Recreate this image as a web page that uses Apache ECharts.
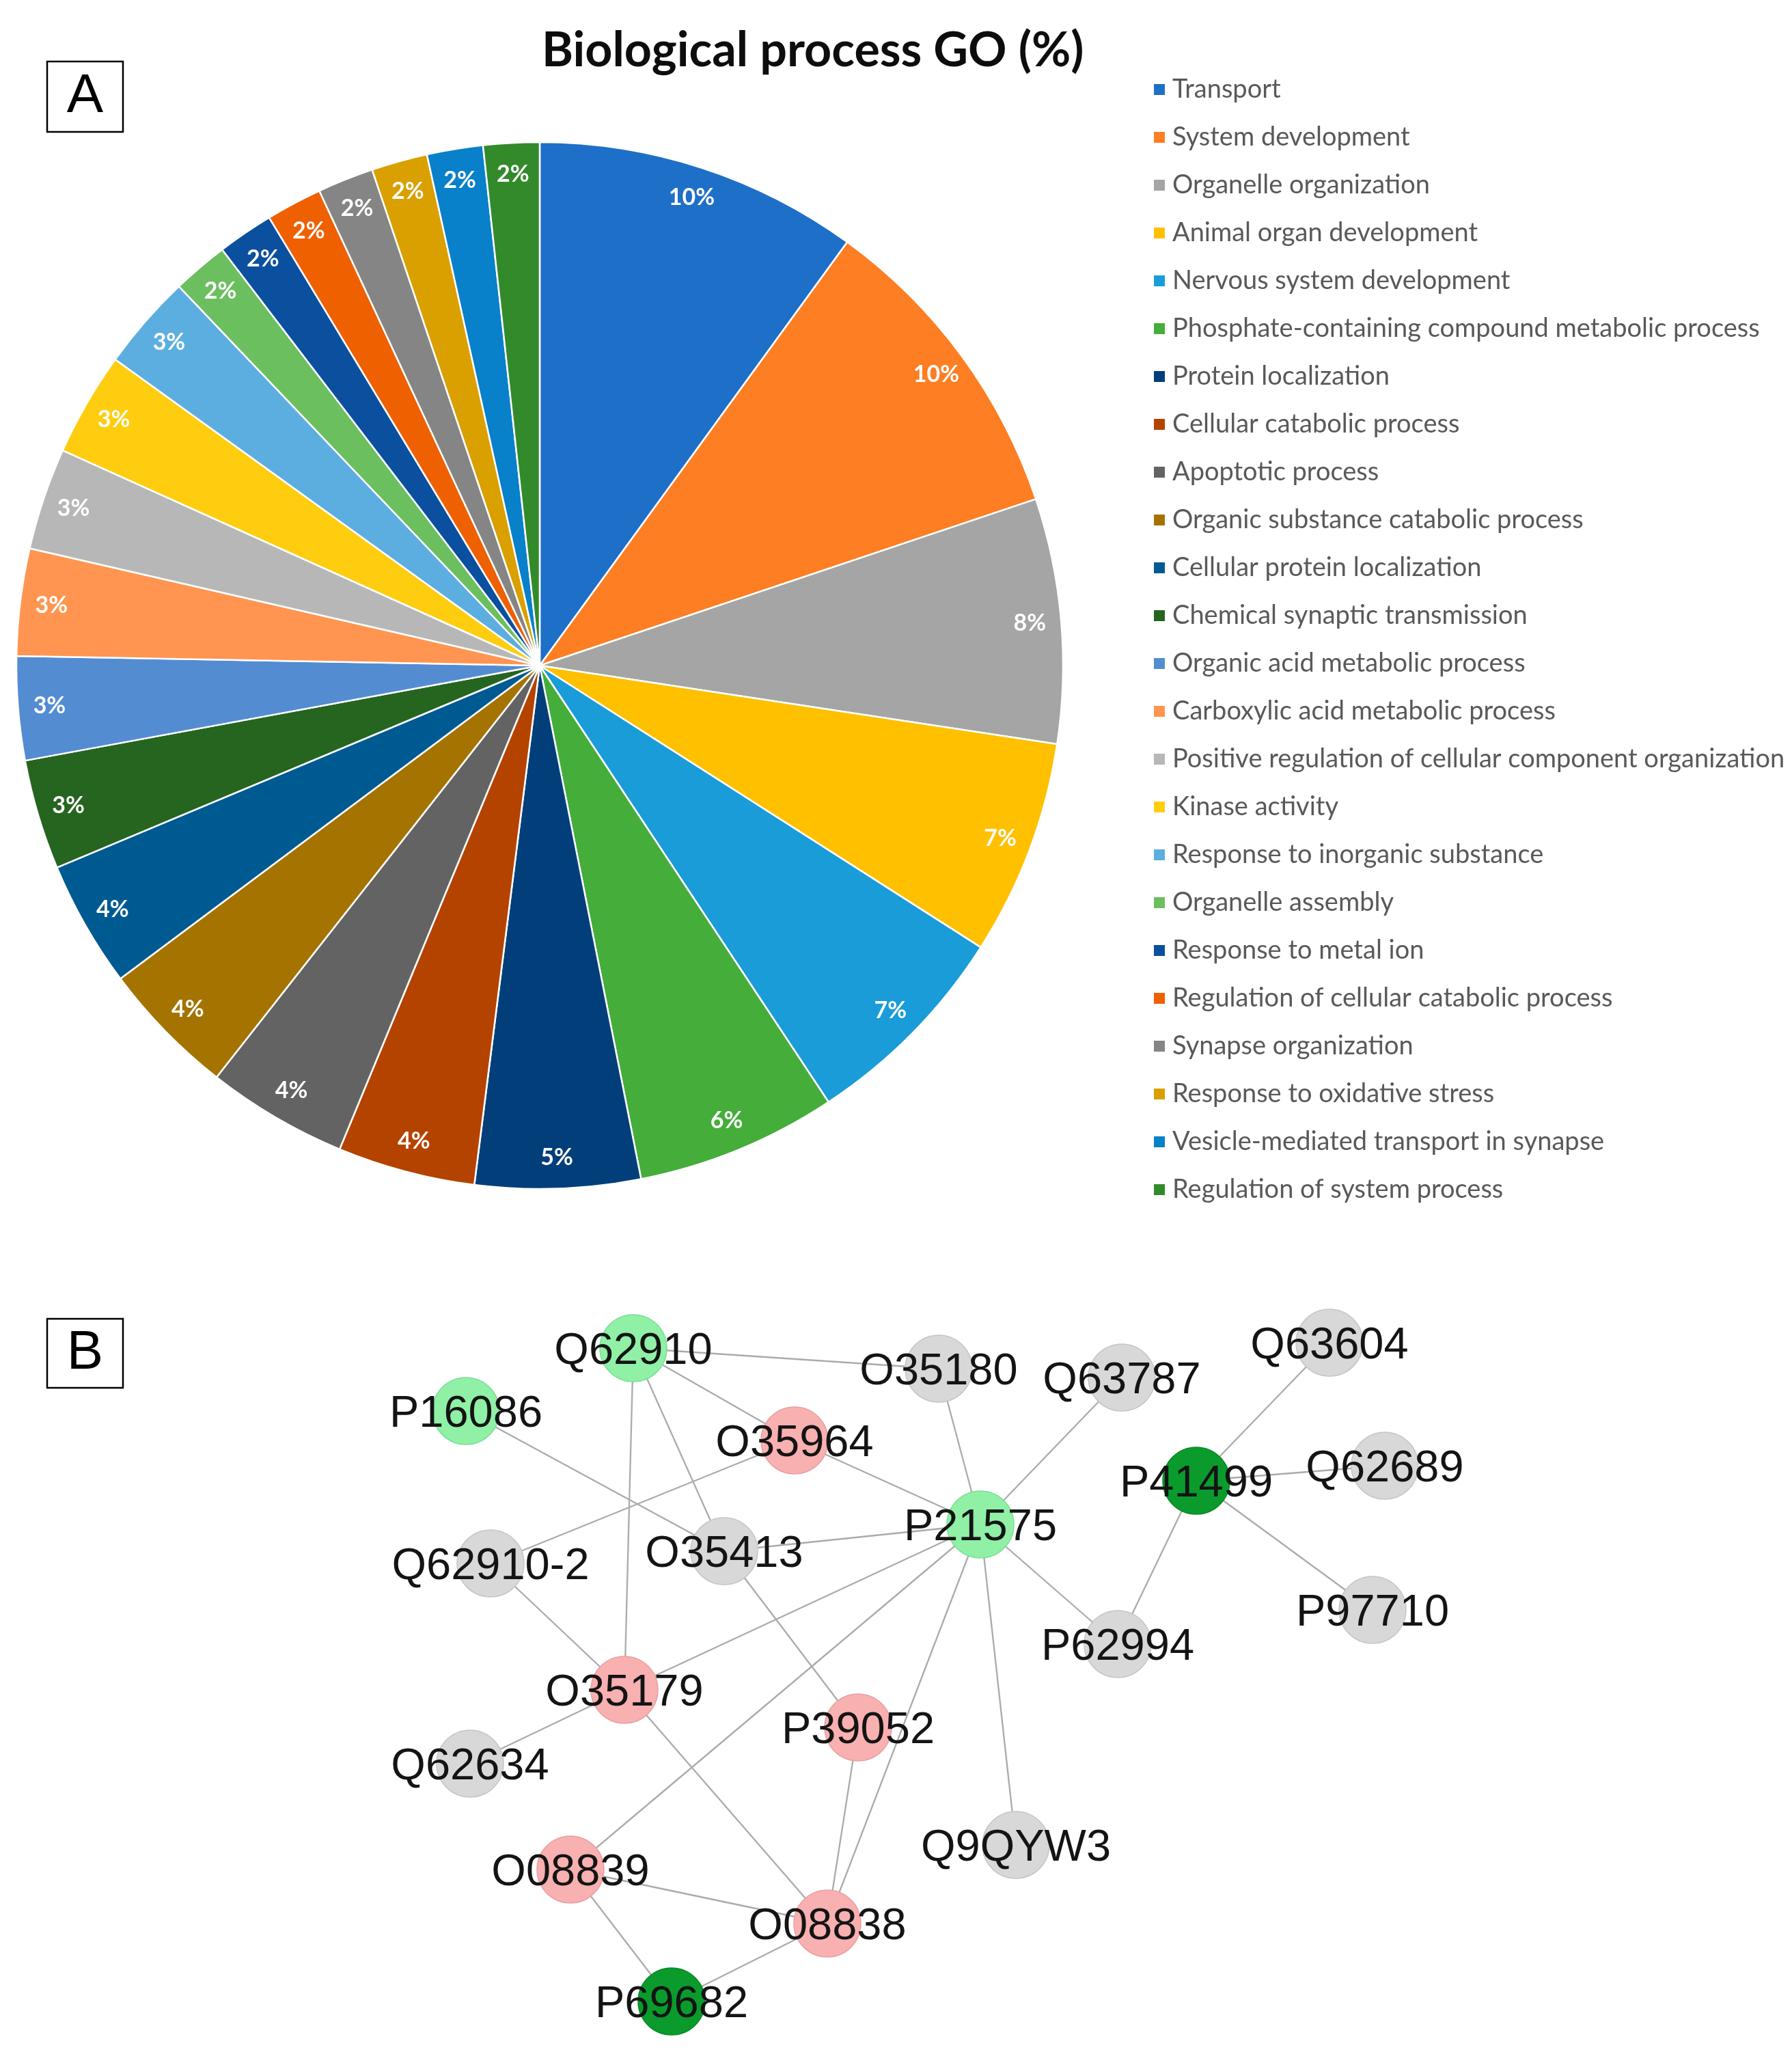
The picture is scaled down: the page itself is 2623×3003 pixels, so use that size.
<!DOCTYPE html>
<html><head><meta charset="utf-8">
<script src="https://cdn.jsdelivr.net/npm/echarts@6/dist/echarts.min.js"></script>
<style>html,body{margin:0;padding:0;background:#fff}#c{width:2623px;height:3003px}</style>
</head><body><div id="c"></div>
<script>
// ---------- Panel A: GO biological process pie ----------
const goTerms = [
  'Transport','System development','Organelle organization','Animal organ development',
  'Nervous system development','Phosphate-containing compound metabolic process',
  'Protein localization','Cellular catabolic process','Apoptotic process',
  'Organic substance catabolic process','Cellular protein localization',
  'Chemical synaptic transmission','Organic acid metabolic process',
  'Carboxylic acid metabolic process','Positive regulation of cellular component organization',
  'Kinase activity','Response to inorganic substance','Organelle assembly',
  'Response to metal ion','Regulation of cellular catabolic process','Synapse organization',
  'Response to oxidative stress','Vesicle-mediated transport in synapse','Regulation of system process'
];
const goPercent = [10.0, 9.85, 7.55, 6.65, 6.65, 6.2, 5.1, 4.25, 4.35, 4.2, 3.9, 3.4, 3.2, 3.3, 3.15, 3.2, 2.95,
                   1.73, 1.73, 1.73, 1.73, 1.73, 1.73, 1.73];
const goColors = ['#1E6FC8','#FD7E23','#A5A5A5','#FFC000','#199CD8','#45AD3A','#023F7A','#B54300',
                  '#636363','#A57300','#005A92','#25651F','#548CD2','#FF9550','#B7B7B7','#FFCD10',
                  '#5DAEE0','#6CBF5F','#0B4F9F','#EF6000','#858585','#D9A000','#0880CA','#338A2B'];

// ---------- Panel B: interaction network ----------
const nodeNames = ['Q62910','P16086','O35180','Q63787','Q63604','O35964','P41499','Q62689','P21575',
                   'O35413','Q62910-2','P62994','P97710','O35179','P39052','Q62634','Q9QYW3',
                   'O08839','O08838','P69682'];
const nodeX = [327, 82, 774, 1042, 1346, 563, 1151, 1427, 835, 460, 118, 1036, 1409, 314, 656, 88, 887, 235, 611, 383];
const nodeY = [73, 165, 103, 116, 65, 208, 267, 245, 331, 370, 388, 506, 456, 573, 628, 681, 800, 836, 915, 1029];
const nodeGroup = ['light','light','gray','gray','gray','pink','dark','gray','light',
                   'gray','gray','gray','gray','pink','pink','gray','gray','pink','pink','dark'];
const edgeSource = ['Q62910','Q62910','Q62910','Q62910','P16086','O35964','O35964','O35180','Q63787',
                    'O35413','O35413','Q62910-2','O35179','O35179','O35179','P21575','P21575','P21575',
                    'P21575','P39052','O08839','O08839','P69682','P41499','P41499','P41499','P41499'];
const edgeTarget = ['O35180','O35964','O35413','O35179','O35413','Q62910-2','P21575','P21575','P21575',
                    'P21575','P39052','O35179','P21575','Q62634','O08838','O08839','O08838','P62994',
                    'Q9QYW3','O08838','O08838','P69682','O08838','Q63604','Q62689','P97710','P62994'];

const groupStyle = {
  gray:  {color:'#D8D8D8', borderColor:'#C6C6C6'},
  pink:  {color:'#F8B0B0', borderColor:'#E9A0A0'},
  light: {color:'#8FF0A6', borderColor:'#7CDF95'},
  dark:  {color:'#0A9B2C', borderColor:'#088A25'}
};

const pieData = goTerms.map((n, i) => ({name: n, value: goPercent[i], itemStyle: {color: goColors[i]}}));
const pieLabelData = goTerms.map((n, i) => ({name: n, value: goPercent[i]}));

const chart = echarts.init(document.getElementById('c'), null, {renderer: 'canvas'});
chart.setOption({
  backgroundColor: '#fff',
  animation: false,
  title: {
    text: 'Biological process GO (%)',
    left: 793, top: 38, padding: 0,
    textStyle: {fontFamily: 'Lato', fontWeight: 'bold', fontSize: 70, color: '#0d0d0d', lineHeight: 72}
  },
  legend: {
    orient: 'vertical', left: 1682, top: 106, itemGap: 30,
    itemWidth: 18, itemHeight: 18, icon: 'rect',
    data: goTerms.map((n, i) => ({name: n, itemStyle: {color: goColors[i]}})),
    textStyle: {fontFamily: 'Lato', fontSize: 38, color: '#595959', lineHeight: 40, padding: [0, 0, 0, 5]},
    selectedMode: false
  },
  grid: {left: 600, top: 1900, width: 1600, height: 1100, show: false},
  xAxis: {type: 'value', min: 0, max: 1600, show: false},
  yAxis: {type: 'value', min: 0, max: 1100, inverse: true, show: false},
  graphic: [
    {type: 'rect', shape: {x: 69, y: 90, width: 111, height: 103}, style: {fill: 'none', stroke: '#000', lineWidth: 2.5}},
    {type: 'text', x: 124.5, y: 142, style: {text: 'A', font: '80px "Liberation Sans", Arial', fill: '#000', align: 'center', verticalAlign: 'middle'}},
    {type: 'rect', shape: {x: 69, y: 1930, width: 111, height: 101}, style: {fill: 'none', stroke: '#000', lineWidth: 2.5}},
    {type: 'text', x: 124.5, y: 1981, style: {text: 'B', font: '80px "Liberation Sans", Arial', fill: '#000', align: 'center', verticalAlign: 'middle'}}
  ],
  series: [
    {
      type: 'pie', name: 'GO', center: [790, 974], radius: [0, 766], startAngle: 90, clockwise: true,
      data: pieData, label: {show: false}, labelLine: {show: false},
      itemStyle: {borderColor: '#fff', borderWidth: 2.5}, emphasis: {disabled: true}, silent: true
    },
    {
      type: 'pie', name: 'GO labels', center: [790, 974], radius: [668, 766], startAngle: 90, clockwise: true,
      data: pieLabelData, legendHoverLink: false, silent: true, emphasis: {disabled: true},
      itemStyle: {color: 'rgba(0,0,0,0)', borderWidth: 0},
      label: {show: true, position: 'inside', formatter: p => Math.round(p.percent) + '%',
              fontFamily: 'Lato', fontWeight: 'bold', fontSize: 34, color: '#fff'},
      labelLine: {show: false}
    },
    {
      type: 'graph', coordinateSystem: 'cartesian2d', xAxisIndex: 0, yAxisIndex: 0,
      symbol: 'circle', symbolSize: 98, roam: false, silent: true,
      data: nodeNames.map((n, i) => ({
        name: n, value: [nodeX[i], nodeY[i]],
        itemStyle: Object.assign({borderWidth: 1.5}, groupStyle[nodeGroup[i]])
      })),
      links: edgeSource.map((s, i) => ({source: s, target: edgeTarget[i]})),
      lineStyle: {color: '#ABABAB', width: 2.3, opacity: 1, curveness: 0},
      label: {show: true, position: 'inside', offset: [0, 5], fontFamily: '"Liberation Sans", Arial', fontSize: 65, color: '#141414'},
      emphasis: {disabled: true}
    }
  ]
});
</script></body></html>
